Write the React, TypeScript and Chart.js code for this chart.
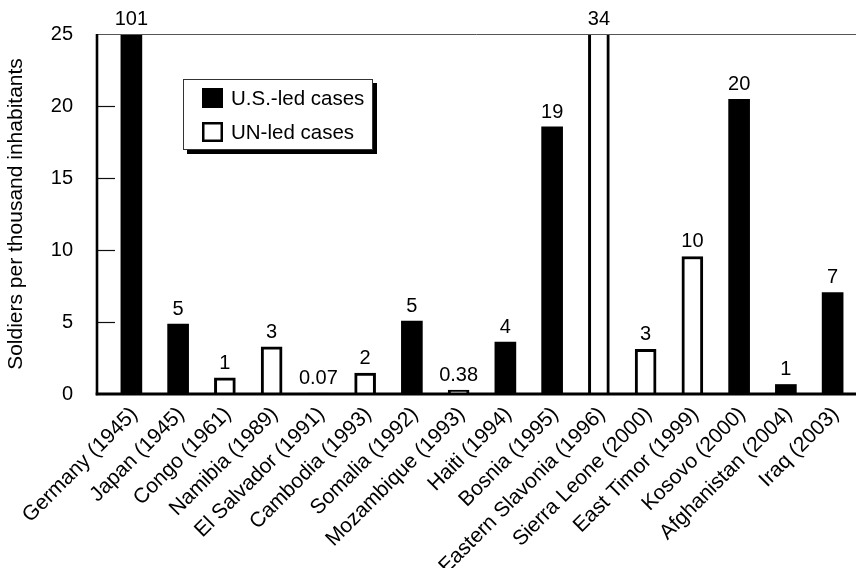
import React, { useEffect, useRef } from "react";
import { Chart, registerables } from "chart.js";
Chart.register(...registerables);

const categories = [
  "Germany (1945)",
  "Japan (1945)",
  "Congo (1961)",
  "Namibia (1989)",
  "El Salvador (1991)",
  "Cambodia (1993)",
  "Somalia (1992)",
  "Mozambique (1993)",
  "Haiti (1994)",
  "Bosnia (1995)",
  "Eastern Slavonia (1996)",
  "Sierra Leone (2000)",
  "East Timor (1999)",
  "Kosovo (2000)",
  "Afghanistan (2004)",
  "Iraq (2003)",
];
const usLed = [101, 4.86, null, null, null, null, 5.07, null, 3.6, 18.56, null, null, null, 20.46, 0.66, 7.05];
const unLed = [null, null, 1.13, 3.28, 0.07, 1.46, null, 0.28, null, null, 34, 3.1, 9.55, null, null, null];
const valueLabels = ["101", "5", "1", "3", "0.07", "2", "5", "0.38", "4", "19", "34", "3", "10", "20", "1", "7"];
const seriesNames = ["U.S.-led cases", "UN-led cases"];
const yTitle = "Soldiers per thousand inhabitants";
const yMin = 0;
const yMax = 25;
const yStep = 5;

const FONT = "'Liberation Sans', Arial, Helvetica, sans-serif";

const decor = {
  id: "decor",
  afterDatasetsDraw(chart: any) {
    const { ctx, chartArea } = chart;
    const ys = chart.scales.y;
    const axisX = chartArea.left - 11;
    const zeroY = ys.getPixelForValue(yMin);
    const topY = ys.getPixelForValue(yMax);
    const W = chart.width;
    ctx.save();
    // top frame line
    ctx.strokeStyle = "#555";
    ctx.lineWidth = 1;
    ctx.beginPath();
    ctx.moveTo(axisX, Math.round(topY) + 0.5);
    ctx.lineTo(W, Math.round(topY) + 0.5);
    ctx.stroke();
    // inward ticks
    ctx.strokeStyle = "#111";
    ctx.lineWidth = 1.2;
    for (let v = yMin + yStep; v < yMax; v += yStep) {
      const py = Math.round(ys.getPixelForValue(v)) + 0.5;
      ctx.beginPath();
      ctx.moveTo(axisX, py);
      ctx.lineTo(axisX + 18, py);
      ctx.stroke();
    }
    // y axis
    ctx.strokeStyle = "#000";
    ctx.lineWidth = 2.6;
    ctx.beginPath();
    ctx.moveTo(axisX, topY);
    ctx.lineTo(axisX, zeroY + 1.3);
    ctx.stroke();
    // x axis
    ctx.lineWidth = 2.8;
    ctx.beginPath();
    ctx.moveTo(axisX - 1.3, zeroY);
    ctx.lineTo(W, zeroY);
    ctx.stroke();

    // value labels
    ctx.fillStyle = "#000";
    ctx.font = `20px ${FONT}`;
    ctx.textAlign = "center";
    ctx.textBaseline = "alphabetic";
    chart.data.datasets.forEach((ds: any, di: number) => {
      const meta = chart.getDatasetMeta(di);
      ds.data.forEach((v: any, i: number) => {
        if (v === null || v === undefined) return;
        const el = meta.data[i];
        const top = Math.max(el.y, chartArea.top);
        ctx.fillText(valueLabels[i], el.x, top - 9);
      });
    });

    // legend
    const lx = 183, ly = 79, lw = 190, lh = 71;
    ctx.fillStyle = "#000";
    ctx.fillRect(lx + 4, ly + 4, lw, lh);
    ctx.fillStyle = "#fff";
    ctx.fillRect(lx, ly, lw, lh);
    ctx.strokeStyle = "#333";
    ctx.lineWidth = 1;
    ctx.strokeRect(lx + 0.5, ly + 0.5, lw - 1, lh - 1);
    chart.data.datasets.forEach((ds: any, di: number) => {
      const cy = ly + 19 + di * 34;
      const sx = 202;
      ctx.fillStyle = ds.backgroundColor;
      ctx.fillRect(sx, cy - 10, 21, 20);
      if (di !== 0) {
        ctx.strokeStyle = ds.borderColor;
        ctx.lineWidth = 2.5;
        ctx.strokeRect(sx + 1.25, cy - 10 + 1.25, 21 - 2.5, 20 - 2.5);
      }
      ctx.fillStyle = "#000";
      ctx.textAlign = "left";
      ctx.textBaseline = "middle";
      ctx.font = `20.5px ${FONT}`;
      ctx.fillText(ds.label, 231, cy + 1);
    });
    ctx.restore();
  },
};

export default function App() {
  const ref = useRef<HTMLCanvasElement | null>(null);
  useEffect(() => {
    if (!ref.current) return;
    const chart = new Chart(ref.current, {
      type: "bar",
      data: {
        labels: categories,
        datasets: [
          {
            label: seriesNames[0],
            data: usLed,
            backgroundColor: "#000",
            borderColor: "#000",
            borderWidth: 0,
            barThickness: 21,
            grouped: false,
          } as any,
          {
            label: seriesNames[1],
            data: unLed,
            backgroundColor: "#fff",
            borderColor: "#000",
            borderWidth: 3,
            barThickness: 21,
            grouped: false,
          } as any,
        ],
      },
      options: {
        responsive: false,
        animation: false,
        layout: { padding: { top: 34, right: 0, left: 0, bottom: 0 } },
        plugins: {
          legend: { display: false },
          tooltip: { enabled: false },
        },
        scales: {
          x: {
            type: "category",
            offset: true,
            grid: { display: false },
            border: { display: false },
            ticks: {
              color: "#000",
              font: { family: FONT, size: 21 },
              minRotation: 45,
              maxRotation: 45,
              autoSkip: false,
              padding: 0,
              labelOffset: 3,
            },
            afterFit(s: any) {
              s.height = 174;
            },
          },
          y: {
            min: yMin,
            max: yMax,
            grid: { display: false },
            border: { display: false },
            ticks: {
              stepSize: yStep,
              color: "#000",
              font: { family: FONT, size: 20 },
              padding: 27,
            },
            title: {
              display: true,
              text: yTitle,
              color: "#000",
              font: { family: FONT, size: 21 },
              padding: { top: 4, bottom: 0 },
            },
            afterFit(s: any) {
              s.width = 108;
              s.paddingTop = 4;
              s.paddingBottom = 4;
            },
          },
        },
      },
      plugins: [decor],
    } as any);
    return () => chart.destroy();
  }, []);
  return (
    <div style={{ position: "fixed", left: 0, top: 0, width: 856, height: 568, background: "#fff" }}>
      <canvas ref={ref} width={856} height={568} style={{ width: 856, height: 568 }} />
    </div>
  );
}
